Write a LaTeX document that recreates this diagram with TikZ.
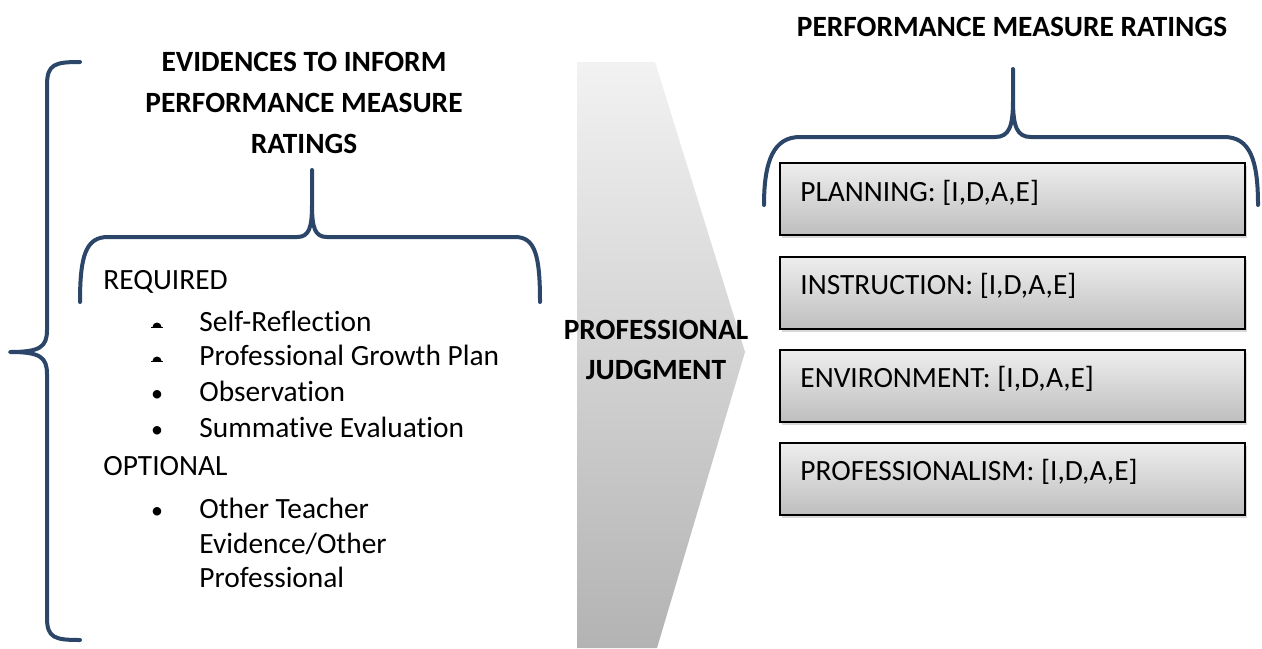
\documentclass[tikz,border=0pt]{standalone}
\usepackage{fontspec}
\setmainfont{Carlito}[Ligatures=NoCommon]
\usetikzlibrary{shadows}
\definecolor{bracecol}{HTML}{2B4668}
\definecolor{boxtop}{HTML}{EEEEEE}
\definecolor{boxbot}{HTML}{BEBEBE}
\definecolor{arrtop}{HTML}{F2F2F2}
\definecolor{arrbot}{HTML}{B3B3B3}
\begin{document}
\begin{tikzpicture}[x=0.5pt,y=-0.5pt,
  brace/.style={draw=bracecol, line width=2pt, line join=round, line cap=round},
  body/.style={font=\fontsize{14.7}{17}\selectfont, inner sep=0pt},
  bul/.style={font=\fontsize{12}{14}\selectfont, inner sep=0pt, anchor=base},
  ttl/.style={font=\bfseries\fontsize{14.7}{17}\selectfont, inner sep=0pt},
  ratebox/.style={draw=black, line width=0.8pt, top color=boxtop, bottom color=boxbot,
    minimum width=232.5pt, minimum height=36pt, inner sep=0pt,
    drop shadow={opacity=0.3, shadow xshift=1pt, shadow yshift=-1.5pt}},
]
\useasboundingbox[fill=white] (0,0) rectangle (1262,648);

% grey chevron
\shade[top color=arrtop, bottom color=arrbot]
  (577,62) -- (655,62) -- (745,352) -- (657,648) -- (577,648) -- cycle;
\node[ttl, anchor=base] (pj1) at (656,339) {PROFESSIONAL};
\node[ttl, anchor=base] (pj2) at (656,379) {JUDGMENT};

% left big brace
\draw[brace] (80,62) .. controls (55,62) and (47,64) .. (47,85) -- (47,330)
  .. controls (47,347) and (40,352) .. (10,352)
  .. controls (40,352) and (47,357) .. (47,374) -- (47,618)
  .. controls (47,638) and (55,640) .. (80,640);

% left title
\node[ttl, anchor=base] (t1) at (304,71) {EVIDENCES TO INFORM};
\node[ttl, anchor=base] (t2) at (304,112) {PERFORMANCE MEASURE};
\node[ttl, anchor=base] (t3) at (304,153) {RATINGS};

% left small brace
\draw[brace] (80,302) .. controls (80,255) and (86,237) .. (108,237) -- (297,237)
  .. controls (309,237) and (312,228) .. (312,205) -- (312,170)
  -- (312,205) .. controls (312,228) and (315,237) .. (327,237) -- (515,237)
  .. controls (535,237) and (540,255) .. (540,302);

% list
\node[body, anchor=base west] (req) at (103,289) {REQUIRED};
\foreach \yy in {331,365}{
  \fill (152.5,\yy-4) arc[start angle=180, end angle=360, radius=4.5] -- cycle;
  \draw[line width=0.6pt] (151,\yy-3.5) -- (163,\yy-3.5);
}
\node[bul] (b3) at (157,401) {•};
\node[bul] (b4) at (157,437) {•};
\node[body, anchor=base west] (i1) at (199,331) {Self-Reflection};
\node[body, anchor=base west] (i2) at (199,365) {Professional Growth Plan};
\node[body, anchor=base west] (i3) at (199,401) {Observation};
\node[body, anchor=base west] (i4) at (199,437) {Summative Evaluation};
\node[body, anchor=base west] (opt) at (103,475) {OPTIONAL};
\node[bul] (b5) at (157,518) {•};
\node[body, anchor=base west] (o1) at (199,518) {Other Teacher};
\node[body, anchor=base west] (o2) at (199,553) {Evidence/Other};
\node[body, anchor=base west] (o3) at (199,587) {Professional};

% right title and brace
\node[ttl, anchor=base] (rt) at (1012,36) {PERFORMANCE MEASURE RATINGS};
\draw[brace] (764,205) .. controls (764,160) and (774,137) .. (800,137) -- (995,137)
  .. controls (1009,137) and (1013,127) .. (1013,100) -- (1013,69)
  -- (1013,100) .. controls (1013,127) and (1017,137) .. (1031,137) -- (1224,137)
  .. controls (1250,137) and (1258,160) .. (1258,205);

% rating boxes
\node[ratebox, anchor=north west] (r1) at (779,162) {};
\node[ratebox, anchor=north west] (r2) at (779,256) {};
\node[ratebox, anchor=north west] (r3) at (779,349) {};
\node[ratebox, anchor=north west] (r4) at (779,442) {};
\node[body, anchor=base west] (l1) at (800,201) {PLANNING: [I,D,A,E]};
\node[body, anchor=base west] (l2) at (800,294) {INSTRUCTION: [I,D,A,E]};
\node[body, anchor=base west] (l3) at (800,387) {ENVIRONMENT: [I,D,A,E]};
\node[body, anchor=base west] (l4) at (800,480) {PROFESSIONALISM: [I,D,A,E]};
\end{tikzpicture}
\end{document}
